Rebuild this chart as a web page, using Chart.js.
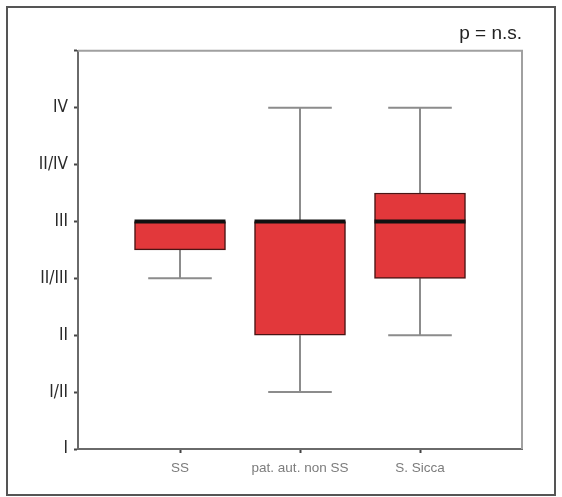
<!DOCTYPE html>
<html>
<head>
<meta charset="utf-8">
<script src="https://cdn.jsdelivr.net/npm/chart.js@4/dist/chart.umd.min.js"></script>
<style>
  html, body { margin: 0; padding: 0; background: #fff; }
  #wrap { position: relative; width: 562px; height: 497px; }
  #frame {
    position: absolute; left: 6px; top: 6px; width: 550px; height: 490px;
    box-sizing: border-box; border: 2px solid #555; pointer-events: none;
  }
</style>
</head>
<body>
<div id="wrap">
  <canvas id="grade-chart" width="562" height="497"></canvas>
  <div id="frame"></div>
</div>
<script>
// groups and grade labels
let categories = ['SS', 'pat. aut. non SS', 'S. Sicca']
let yLabels = ['I', 'I/II', 'II', 'II/III', 'III', 'II/IV', 'IV', '']

// box plot statistics per group (grade index, I = 0)
let whiskerLow = [3, 1, 2]
let q1 = [3.5, 2, 3]
let median = [4, 4, 4]
let q3 = [4, 4, 4.5]
let whiskerHigh = [4, 6, 6]

let boxColor = '#e2383b'
let capHalf = 0.265   // half width of whisker caps, in x units

// whiskers + caps, drawn under the boxes
let whiskerPlugin = {
    id: 'whiskers',
    beforeDatasetsDraw (chart) {
        let ctx = chart.ctx
        let xs = chart.scales.x
        let ys = chart.scales.y
        ctx.save()
        ctx.strokeStyle = '#8c8c8c'
        ctx.lineWidth = 2
        for (let i = 0; i < categories.length; i++) {
            let x = xs.getPixelForValue(i + 1)
            let left = xs.getPixelForValue(i + 1 - capHalf)
            let right = xs.getPixelForValue(i + 1 + capHalf)
            ctx.beginPath()
            ctx.moveTo(x, ys.getPixelForValue(whiskerLow[i]))
            ctx.lineTo(x, ys.getPixelForValue(q1[i]))
            ctx.moveTo(x, ys.getPixelForValue(q3[i]))
            ctx.lineTo(x, ys.getPixelForValue(whiskerHigh[i]))
            if (whiskerLow[i] < q1[i]) {
                ctx.moveTo(left, ys.getPixelForValue(whiskerLow[i]))
                ctx.lineTo(right, ys.getPixelForValue(whiskerLow[i]))
            }
            if (whiskerHigh[i] > q3[i]) {
                ctx.moveTo(left, ys.getPixelForValue(whiskerHigh[i]))
                ctx.lineTo(right, ys.getPixelForValue(whiskerHigh[i]))
            }
            ctx.stroke()
        }
        ctx.restore()
    },
    afterDatasetsDraw (chart) {
        let ctx = chart.ctx
        let ys = chart.scales.y
        let meta = chart.getDatasetMeta(0)
        ctx.save()
        ctx.strokeStyle = '#111'
        ctx.lineWidth = 4
        // median line across each box
        meta.data.forEach((bar, i) => {
            let y = ys.getPixelForValue(median[i])
            ctx.beginPath()
            ctx.moveTo(bar.x - bar.width / 2, y)
            ctx.lineTo(bar.x + bar.width / 2, y)
            ctx.stroke()
        })
        // top and right edges of the plot frame
        let a = chart.chartArea
        ctx.strokeStyle = '#a0a0a0'
        ctx.lineWidth = 2
        ctx.beginPath()
        ctx.moveTo(a.left, a.top)
        ctx.lineTo(a.right, a.top)
        ctx.lineTo(a.right, a.bottom)
        ctx.stroke()
        ctx.restore()
    }
}

let chartCanvas = document.querySelector('#grade-chart')
let context = chartCanvas.getContext('2d')

let gradeChart = new Chart(context, {
    type: 'bar',
    data: {
        datasets: [
            {
                data: categories.map((c, i) => ({ x: i + 1, y: [q1[i], q3[i]] })),
                backgroundColor: boxColor,
                borderColor: '#4a1414',
                borderWidth: 1.5,
                borderSkipped: false,
                barThickness: 91
            }
        ]
    },
    options: {
        responsive: false,
        animation: false,
        layout: { padding: { left: 38, right: 40, top: 0, bottom: 18 } },
        plugins: {
            legend: { display: false },
            tooltip: { enabled: false },
            title: {
                display: true,
                text: 'p = n.s.',
                align: 'end',
                color: '#222',
                font: { family: 'Liberation Sans', size: 19, weight: 'normal' },
                padding: { top: 22, bottom: 6 }
            }
        },
        scales: {
            x: {
                type: 'linear',
                offset: false,
                min: 0.15,
                max: 3.85,
                afterBuildTicks: s => { s.ticks = categories.map((c, i) => ({ value: i + 1 })) },
                afterFit: s => { s.height = 30 },
                ticks: {
                    callback: v => categories[v - 1],
                    color: '#7c7c7c',
                    font: { family: 'Liberation Sans', size: 13.5 },
                    padding: 7,
                    maxRotation: 0
                },
                grid: { offset: false, drawOnChartArea: false, tickLength: 4, tickColor: '#444', tickWidth: 2 },
                border: { color: '#6a6a6a', width: 2 }
            },
            y: {
                min: 0,
                max: 7,
                afterFit: s => { s.width = 40 },
                ticks: {
                    stepSize: 1,
                    callback: v => yLabels[v],
                    color: '#2a2a2a',
                    font: { family: "'DejaVu Sans Condensed', 'Liberation Sans'", size: 17 },
                    padding: 6
                },
                grid: { drawOnChartArea: false, tickLength: 4, tickColor: '#444', tickWidth: 2 },
                border: { color: '#6a6a6a', width: 2 }
            }
        }
    },
    plugins: [whiskerPlugin]
})
</script>
</body>
</html>
